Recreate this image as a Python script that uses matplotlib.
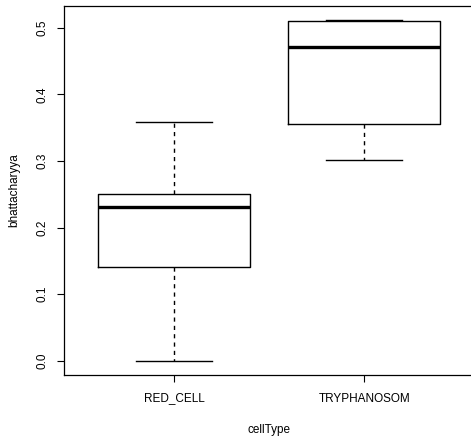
import matplotlib
matplotlib.use("Agg")
import matplotlib.pyplot as plt
from matplotlib.ticker import FormatStrFormatter

# five-number summaries
cell_types = ["RED_CELL", "TRYPHANOSOM"]
whisker_low = [0.000, 0.302]
q1 = [0.1407, 0.3548]
median = [0.231, 0.4705]
q3 = [0.250, 0.5095]
whisker_high = [0.358, 0.512]

plt.rcParams["font.family"] = ["Liberation Sans", "DejaVu Sans"]

fig = plt.figure(figsize=(4.71, 4.37), dpi=100)
ax = fig.add_axes([64 / 471, (437 - 374.5) / 437, 410.5 / 471, 368.5 / 437])

stats = []
for i, name in enumerate(cell_types):
    stats.append(dict(label=name, whislo=whisker_low[i], q1=q1[i],
                      med=median[i], q3=q3[i], whishi=whisker_high[i], fliers=[]))

ax.bxp(stats, positions=[1, 2], widths=0.8, capwidths=0.4, showfliers=False,
       boxprops=dict(color="black", lw=1.0),
       whiskerprops=dict(color="black", lw=1.0, linestyle=(0, (3, 3))),
       capprops=dict(color="black", lw=1.0),
       medianprops=dict(color="black", lw=2.4, solid_capstyle="butt"))

ax.set_xlim(0.42, 2.58)
ax.set_ylim(-0.0205, 0.5325)
ax.set_yticks([0.0, 0.1, 0.2, 0.3, 0.4, 0.5])
ax.yaxis.set_major_formatter(FormatStrFormatter("%.1f"))
for lab in ax.get_yticklabels():
    lab.set_rotation(90)
    lab.set_va("center")
ax.tick_params(axis="both", labelsize=8.5, length=5, width=0.8, colors="black")
ax.tick_params(axis="x", pad=8)
ax.tick_params(axis="y", pad=6)

ax.set_xlabel("cellType", fontsize=8.5, labelpad=14)
ax.set_ylabel("bhattacharyya", fontsize=8.5, labelpad=12)

for s in ax.spines.values():
    s.set_linewidth(0.9)

fig.savefig("out.png", dpi=100)
